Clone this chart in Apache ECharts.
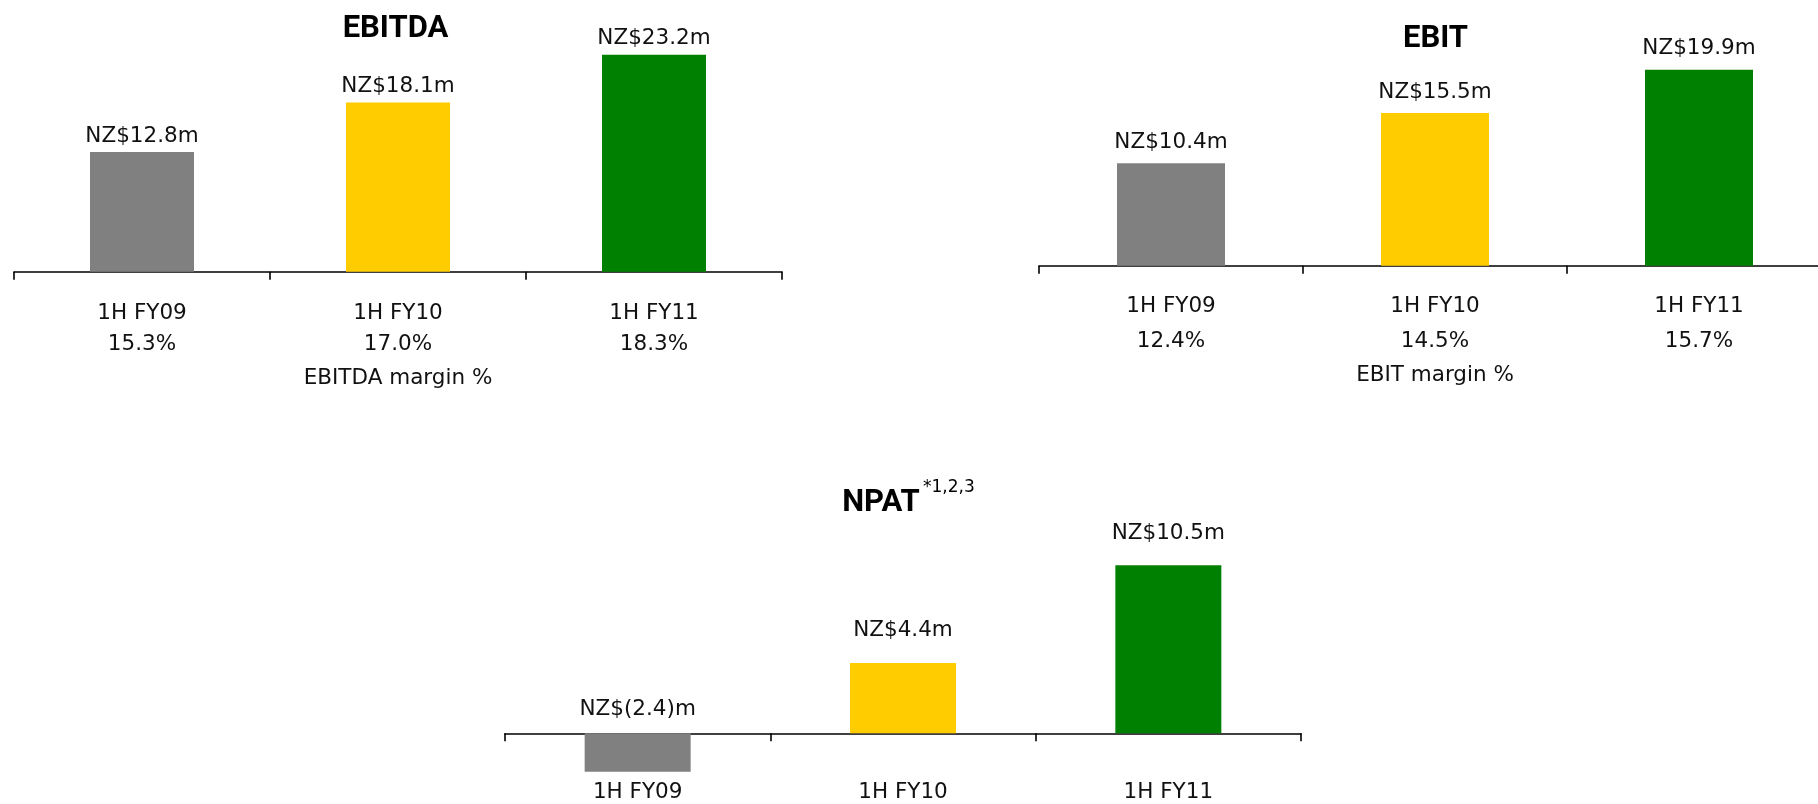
<!DOCTYPE html>
<html>
<head>
<meta charset="utf-8">
<script src="https://cdn.jsdelivr.net/npm/echarts@6/dist/echarts.min.js"></script>
<style>
  html, body { margin: 0; padding: 0; background: #fff; }
  #chart { width: 1818px; height: 804px; }
</style>
</head>
<body>
<div id="chart"></div>
<script>
// Half-year results, NZ$ millions
const categories = ['1H FY09', '1H FY10', '1H FY11'];
const ebitda = [12.8, 18.1, 23.2];
const ebitdaMargin = ['15.3%', '17.0%', '18.3%'];
const ebit = [10.4, 15.5, 19.9];
const ebitMargin = ['12.4%', '14.5%', '15.7%'];
const npat = [-2.4, 4.4, 10.5];
const barColors = ['#808080', '#FFCC00', '#008000'];

const LABEL_FONT = '"DejaVu Sans", Verdana, sans-serif';
const TITLE_FONT = 'Roboto, "Liberation Sans", sans-serif';
const INK = '#111111';

function money(v) {
  return v < 0 ? 'NZ$(' + Math.abs(v).toFixed(1) + ')m' : 'NZ$' + v.toFixed(1) + 'm';
}

// negative bars keep their value label just above the zero line
function barData(values, negDistance) {
  return values.map((v, i) => {
    const item = { value: v, itemStyle: { color: barColors[i] } };
    if (v < 0 && negDistance != null) item.label = { distance: negDistance };
    return item;
  });
}

const labelText = { color: INK, fontFamily: LABEL_FONT, fontSize: 21.5 };

function catAxis(gridIndex, margin, lineGap, margins, name, nameGap) {
  const axis = {
    type: 'category',
    gridIndex: gridIndex,
    data: categories,
    boundaryGap: true,
    axisLine: { show: true, onZero: true, lineStyle: { color: '#000', width: 1.6 } },
    axisTick: { show: true, length: 8, lineStyle: { color: '#000', width: 1.6 } },
    axisLabel: Object.assign({
      interval: 0,
      margin: margin,
      lineHeight: lineGap,
      formatter: (value, idx) => margins ? value + '\n' + margins[idx] : value
    }, labelText),
    splitLine: { show: false }
  };
  if (name) {
    axis.name = name;
    axis.nameLocation = 'middle';
    axis.nameGap = nameGap;
    axis.nameTextStyle = labelText;
  }
  return axis;
}

// NPAT: the zero line carries the ticks, the period names sit under the plot
const npatAxis = catAxis(2, 0, 22, null);
npatAxis.axisLabel.show = false;
const npatLabels = {
  type: 'category',
  gridIndex: 2,
  data: categories,
  position: 'bottom',
  boundaryGap: true,
  axisLine: { show: false, onZero: false },
  axisTick: { show: false },
  splitLine: { show: false },
  axisLabel: Object.assign({ interval: 0, margin: 4, lineHeight: 22 }, labelText)
};

function valAxis(gridIndex, min, max) {
  return { type: 'value', gridIndex: gridIndex, min: min, max: max, show: false };
}

function barSeries(idx, values, distance, width, negDistance) {
  return {
    type: 'bar',
    xAxisIndex: idx,
    yAxisIndex: idx,
    data: barData(values, negDistance),
    barWidth: width,
    label: Object.assign({
      show: true,
      position: 'top',
      distance: distance,
      formatter: p => money(p.value)
    }, labelText)
  };
}

const chart = echarts.init(document.getElementById('chart'), null, { renderer: 'canvas' });

chart.setOption({
  animation: false,
  backgroundColor: '#ffffff',
  grid: [
    { left: 14, width: 768, top: 37.95, height: 233.75, outerBoundsMode: 'none', containLabel: false },
    { left: 1039, width: 792, top: 19.45, height: 246.25, outerBoundsMode: 'none', containLabel: false },
    { left: 505, width: 796, top: 493.3, height: 284, outerBoundsMode: 'none', containLabel: false }
  ],
  xAxis: [
    catAxis(0, 26, 31, ebitdaMargin, 'EBITDA margin %', 96),
    catAxis(1, 23.5, 35, ebitMargin, 'EBIT margin %', 99),
    npatAxis,
    npatLabels
  ],
  yAxis: [
    valAxis(0, 0, 25),
    valAxis(1, 0, 25),
    valAxis(2, -2.75, 15)
  ],
  series: [
    barSeries(0, ebitda, 5, 104),
    barSeries(1, ebit, 10, 108),
    barSeries(2, npat, 21, 106, 13)
  ],
  graphic: [
    {
      type: 'text', x: 395.5, y: 14,
      style: { text: 'EBITDA', align: 'center', verticalAlign: 'top',
               font: 'bold 31px ' + TITLE_FONT, fill: '#000' }
    },
    {
      type: 'text', x: 1435.5, y: 24,
      style: { text: 'EBIT', align: 'center', verticalAlign: 'top',
               font: 'bold 31px ' + TITLE_FONT, fill: '#000' }
    },
    {
      type: 'text', x: 908.5, y: 479,
      style: {
        text: '{t|NPAT} {s|*1,2,3}',
        align: 'center', verticalAlign: 'top',
        rich: {
          t: { fontFamily: TITLE_FONT, fontWeight: 'bold', fontSize: 31, lineHeight: 40,
               verticalAlign: 'bottom', color: '#000' },
          s: { fontFamily: LABEL_FONT, fontSize: 17, lineHeight: 40,
               verticalAlign: 'top', color: '#000' }
        }
      }
    }
  ]
});
</script>
</body>
</html>
